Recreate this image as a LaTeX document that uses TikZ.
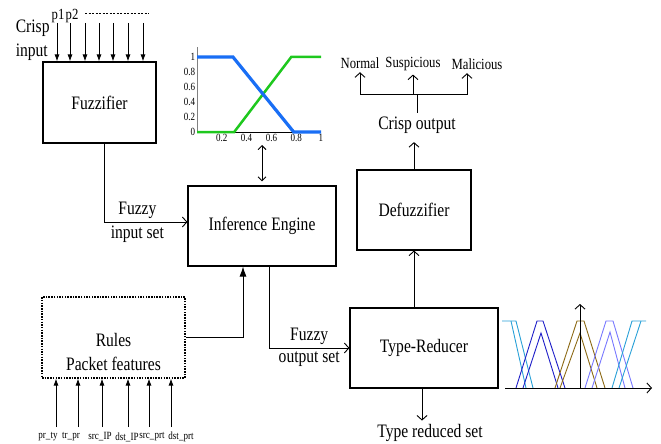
\documentclass[tikz,border=0pt]{standalone}
\usepackage{fontspec}
\setmainfont{Liberation Serif}[FakeStretch=0.82]
\usepackage{xcolor}
\usetikzlibrary{arrows.meta, positioning}
\newcommand{\bigtxt}{\fontsize{19}{24}\selectfont}
\newcommand{\midtxt}{\fontsize{15.5}{18}\selectfont}
\newcommand{\smalltxt}{\fontsize{11}{13}\selectfont}
\definecolor{mfblue}{RGB}{25,110,245}
\definecolor{mfgreen}{RGB}{30,200,30}
\definecolor{trcyan}{RGB}{40,160,215}
\definecolor{trblue}{RGB}{30,30,200}
\definecolor{trbrown}{RGB}{140,105,20}
\definecolor{trviolet}{RGB}{120,120,255}

\begin{document}
\begin{tikzpicture}[x=1pt, y=-1pt, font=\bigtxt, line width=0.9pt,
    box/.style={draw, line width=1.1pt, minimum height=80pt, inner sep=0pt},
    oarrow/.style={-{Straight Barb[length=4.5pt,width=10pt]}},
    darrow/.style={{Straight Barb[length=4pt,width=8pt]}-{Straight Barb[length=4pt,width=8pt]}},
    farrow/.style={-{Latex[length=7pt,width=5pt]}},
    bigfarrow/.style={-{Latex[length=10pt,width=7pt]}}]
    \useasboundingbox (0,0) rectangle (661,444);

    % Blocks
    \node[box, minimum width=113pt, minimum height=81pt] (fuzz) at (99.5,102.5) {Fuzzifier};
    \node[box, minimum width=148pt] (infer) at (262,226) {Inference Engine};
    \node[box, dash pattern=on 1.5pt off 1.2pt, minimum width=143pt, minimum height=81pt] (rules) at (113.5,337.5) {};
    \node[align=center] (rulestxt) at (113.5,352) {Rules\\Packet features};
    \node[box, minimum width=114pt] (defuzz) at (414,210) {Defuzzifier};
    \node[box, minimum width=148pt] (typered) at (424,348) {Type-Reducer};

    % Crisp input
    \node[anchor=west, align=left] (crispin) at (12,40) {Crisp\\input};
    \node[font=\midtxt] (pone) at (58,16) {p1};
    \node[font=\midtxt] (ptwo) at (72,16) {p2};
    \draw[dash pattern=on 2pt off 1.5pt, line width=0.8pt] (85,13) -- (149,13);
    \foreach \x [count=\i] in {57,70,85,99,113,128,143} {
        \coordinate (in\i) at (\x,23);
        \draw[farrow] (in\i) -- (in\i |- fuzz.north);
    }

    % Connectors
    \draw[oarrow] ([xshift=4.5pt]fuzz.south) |- ([yshift=4pt]infer.west)
        node[pos=0.7, above] (fzin) {Fuzzy} node[pos=0.7, below] (fzinb) {input set};
    \coordinate (plotbot) at (262,145);
    \draw[darrow] (plotbot) -- ([yshift=4pt]infer.north);
    \draw[bigfarrow] (rules.east) -| ([xshift=-19pt]infer.south);
    \draw[oarrow] ([xshift=7pt]infer.south) |- (typered.west)
        node[pos=0.75, above] (fzout) {Fuzzy} node[pos=0.75, below] (fzoutb) {output set};
    \draw[oarrow] (defuzz.south |- typered.north) -- (defuzz.south);

    % Crisp output
    \node (crispout) at (417,125) {Crisp output};
    \draw[oarrow, shorten >=5pt] (defuzz.north) -- (defuzz.north |- crispout.south);
    \coordinate (hub) at (417,94);
    \node[font=\midtxt] (normal) at (360,63) {Normal};
    \node[font=\midtxt] (susp) at (413,64) {Suspicious};
    \node[font=\midtxt] (malic) at (477,64) {Malicious};
    \draw (crispout.north) -- (hub);
    \draw[oarrow] (hub) -| (normal.south);
    \draw[oarrow] (hub) -| ([xshift=-10pt]malic.south);
    \draw[oarrow] (hub -| susp.south) -- (susp.south);

    % Type reduced set
    \node (trset) at (430,433) {Type reduced set};
    \draw[oarrow] ([xshift=-2pt]typered.south) -- ([xshift=-2pt]typered.south |- trset.north);

    % Packet features
    \foreach \x/\lx/\t [count=\i] in {56/48/pr\_ty, 78/71/tr\_pr, 102/100/src\_IP, 128/127/dst\_IP, 149/152/src\_prt, 171/181/dst\_prt} {
        \node[font=\smalltxt] (feat\i) at (\lx,437) {\t};
        \coordinate (fin\i) at (\x,427);
        \draw[farrow] (fin\i) -- (fin\i |- rules.south);
    }

    % Membership functions
    \begin{scope}[shift={(197,132)}, x=124pt, y=75pt]
        \draw[gray, line width=0.8pt] (0,0) -- (0,1.13);
        \draw[line width=0.8pt] (0,0) -- (1,0);
        \foreach \v [count=\i] in {0,0.2,0.4,0.6,0.8,1} {
            \node[font=\smalltxt, anchor=east, inner sep=1.5pt] (ylab\i) at (0,\v) {\v};
        }
        \foreach \v [count=\i] in {0.2,0.4,0.6,0.8,1} {
            \node[font=\smalltxt, anchor=north, inner sep=2pt] (xlab\i) at (\v,0) {\v};
        }
        \draw[mfgreen, line width=2.5pt] (0,0) -- (0.3,0) -- (0.76,1) -- (1,1);
        \draw[mfblue, line width=3.2pt] (0,1) -- (0.29,1) -- (0.78,0) -- (1,0);
    \end{scope}

    % Type reduced sets
    \draw[trcyan] (502,321) -- (516,321) -- (533,388);
    \draw[trcyan] (511,321) -- (526,388);
    \draw[trblue] (516,388) -- (537,321) -- (543,321) -- (565,388);
    \draw[trblue] (523,388) -- (541,333) -- (558,388);
    \draw[trbrown] (555,388) -- (577,321) -- (584,321) -- (605,388);
    \draw[trbrown] (560,388) -- (580,333) -- (597,388);
    \draw[trviolet] (585,388) -- (606,321) -- (613,321) -- (633,388);
    \draw[trviolet] (592,388) -- (610,332) -- (625,388);
    \draw[trcyan] (612,388) -- (632,321) -- (646,321);
    \draw[trcyan] (619,388) -- (641,321);
    \draw[oarrow] (505,388) -- (652,388);
    \draw[oarrow] (580,388) -- (580,304);
\end{tikzpicture}
\end{document}
